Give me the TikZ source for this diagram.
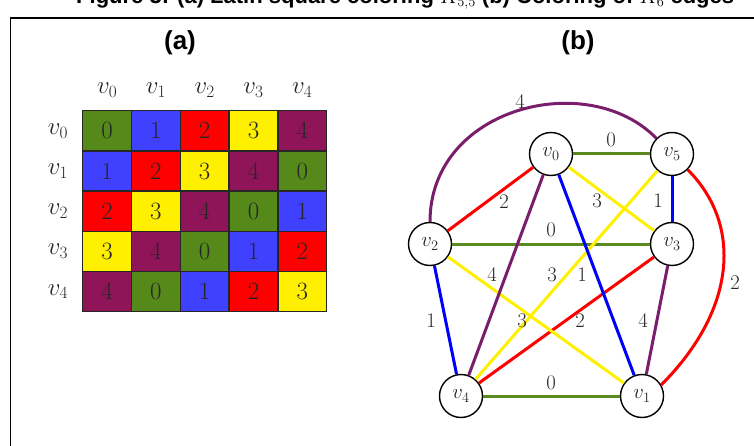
\documentclass[tikz,border=0pt]{standalone}
\usepackage{fontspec}
\newfontfamily\capfont{Liberation Sans}
\definecolor{col0}{HTML}{558A1A}
\definecolor{col1}{HTML}{4040FF}
\definecolor{col2}{HTML}{FF0000}
\definecolor{col3}{HTML}{FFF000}
\definecolor{col4}{HTML}{8F1458}
\definecolor{egreen}{HTML}{5A8A1E}
\definecolor{eblue}{HTML}{0000FF}
\definecolor{ered}{HTML}{FF0000}
\definecolor{eyellow}{HTML}{FFF000}
\definecolor{epurple}{HTML}{7A1E6C}
\tikzset{
  cell/.style={draw=black!85, line width=1.5, minimum width=48.8, minimum height=40.2, inner sep=0, text=black!85, font=\fontsize{24}{28}\selectfont},
  hdr/.style={inner sep=0, text=black!85, font=\fontsize{24}{28}\selectfont},
  vert/.style={circle, draw=black, line width=1.4, minimum size=43, inner sep=0, fill=white, text=black!85, font=\fontsize{22}{26}\selectfont},
  edge/.style={line width=3},
  elabel/.style={inner sep=0, text=black!85, font=\fontsize{22}{26}\selectfont},
  captext/.style={inner sep=0, font=\capfont\bfseries\fontsize{26}{30}\selectfont},
}
\begin{document}
\begin{tikzpicture}[x=1pt,y=-1pt]
\useasboundingbox (0,0) rectangle (754,446);
% frame and title
\draw[line width=1.3] (10.5,470) -- (10.5,18) -- (780,18);
\node[anchor=base west, inner sep=0, font=\capfont\bfseries\fontsize{22}{26}\selectfont] (title) at (76,3.5) {Figure 3: (a) Latin square coloring $K_{5,5}$ (b) Coloring of $K_6$ edges};
\node[captext] (capa) at (180,43) {(a)};
\node[captext] (capb) at (578,43) {(b)};
% matrix
\foreach \i in {0,...,4} {
  \node[hdr] (h\i) at ({82.7+48.8*(\i+0.5)},90) {$v_{\i}$};
  \node[hdr] (r\i) at (58,{110.7+40.2*(\i+0.5)}) {$v_{\i}$};
  \foreach \j in {0,...,4} {
    \pgfmathtruncatemacro{\k}{mod(\i+\j,5)}
    \node[cell, fill=col\k] (c\i\j) at ({82.7+48.8*(\j+0.5)},{110.7+40.2*(\i+0.5)}) {$\k$};
  }
}
% graph nodes
\node[vert] (v0) at (551,154) {$v_0$};
\node[vert] (v5) at (672,154) {$v_5$};
\node[vert] (v2) at (430,244) {$v_2$};
\node[vert] (v3) at (672,244) {$v_3$};
\node[vert] (v4) at (461,396) {$v_4$};
\node[vert] (v1) at (642,396) {$v_1$};
% edges
\draw[edge, epurple] (v2.north) .. controls +(0,-115) and +(-68,-70) .. (v5.north west);
\draw[edge, ered] (v5.south east) .. controls +(55,55) and +(75,-75) .. (v1.30);
\draw[edge, egreen] (v0) -- (v5);
\draw[edge, egreen] (v2) -- (v3);
\draw[edge, egreen] (v4) -- (v1);
\draw[edge, ered] (v0) -- (v2);
\draw[edge, ered] (v3) -- (v4);
\draw[edge, eyellow] (v0) -- (v3);
\draw[edge, eyellow] (v5) -- (v4);
\draw[edge, eyellow] (v2) -- (v1);
\draw[edge, eblue] (v5) -- (v3);
\draw[edge, eblue] (v0) -- (v1);
\draw[edge, eblue] (v2) -- (v4);
\draw[edge, epurple] (v0) -- (v4);
\draw[edge, epurple] (v3) -- (v1);
% edge labels
\node[elabel] (l05) at (611,140) {$0$};
\node[elabel] (l02) at (504,202) {$2$};
\node[elabel] (l03) at (597,201) {$3$};
\node[elabel] (l53) at (658,201) {$1$};
\node[elabel] (l25) at (520,102) {$4$};
\node[elabel] (l23) at (551,230) {$0$};
\node[elabel] (l04) at (492,275) {$4$};
\node[elabel] (l54) at (552,275) {$3$};
\node[elabel] (l01) at (582,275) {$1$};
\node[elabel] (l51) at (735,283) {$2$};
\node[elabel] (l24) at (431,321) {$1$};
\node[elabel] (l21) at (522,321) {$3$};
\node[elabel] (l34) at (580,321) {$2$};
\node[elabel] (l31) at (643,321) {$4$};
\node[elabel] (l41) at (551,383) {$0$};
\end{tikzpicture}
\end{document}
